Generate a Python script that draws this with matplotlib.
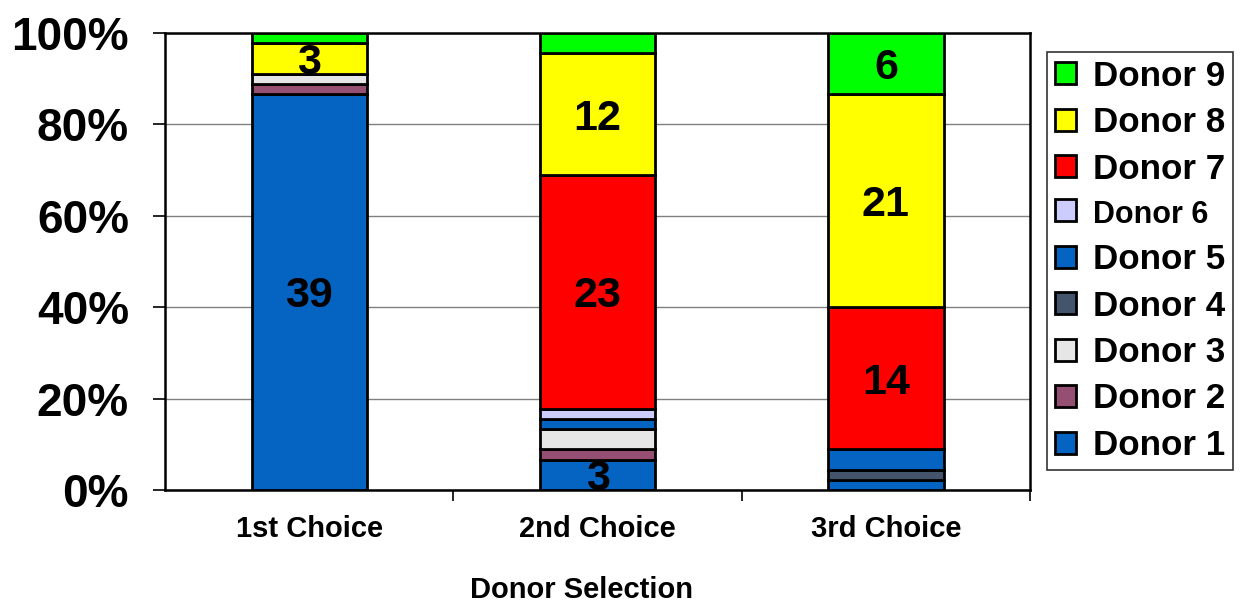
import matplotlib
matplotlib.use("Agg")
import matplotlib.pyplot as plt
from matplotlib.ticker import FixedLocator, PercentFormatter
import numpy as np

plt.rcParams['font.family'] = ['Liberation Sans', 'DejaVu Sans']
plt.rcParams['font.weight'] = 'bold'

categories = ['1st Choice', '2nd Choice', '3rd Choice']
donors = ['Donor 1', 'Donor 2', 'Donor 3', 'Donor 4', 'Donor 5',
          'Donor 6', 'Donor 7', 'Donor 8', 'Donor 9']
# counts per donor for each choice
donor1 = [39, 3, 1]
donor2 = [1, 1, 0]
donor3 = [1, 2, 0]
donor4 = [0, 0, 1]
donor5 = [0, 1, 2]
donor6 = [0, 1, 0]
donor7 = [0, 23, 14]
donor8 = [3, 12, 21]
donor9 = [1, 2, 6]
colors = ['#0563C1', '#954F72', '#E6E6E6', '#44546A', '#0563C1',
          '#CCCCFF', '#FF0000', '#FFFF00', '#00FF00']

series = [donor1, donor2, donor3, donor4, donor5, donor6, donor7, donor8, donor9]
counts = np.array(series, dtype=float)
totals = counts.sum(axis=0)
pct = counts / totals * 100

fig = plt.figure(figsize=(12.43, 6.03), dpi=100)
ax = fig.add_axes([165/1243, 1-490/603, (1030-165)/1243, (490-33)/603])

x = np.arange(len(categories))
bottom = np.zeros(len(categories))
handles = []
for i, (name, col) in enumerate(zip(donors, colors)):
    bars = ax.bar(x, pct[i], 0.4, bottom=bottom, color=col, edgecolor='black',
                  linewidth=2.0, label=name, zorder=3)
    handles.append(bars)
    for j in range(len(categories)):
        if counts[i, j] >= 3:
            ax.text(x[j], bottom[j] + pct[i, j] / 2, f"{int(counts[i, j])}",
                    ha='center', va='center_baseline', fontsize=31,
                    fontweight='bold', zorder=4)
    bottom += pct[i]

ax.set_xlim(-0.5, 2.5)
ax.set_ylim(0, 100)
ax.set_yticks([0, 20, 40, 60, 80, 100])
ax.yaxis.set_major_formatter(PercentFormatter(decimals=0))
ax.yaxis.grid(True, color='#808080', linewidth=1, zorder=0)
ax.set_axisbelow(True)
ax.tick_params(axis='y', length=9, width=1.2, pad=17, labelsize=33)
for lbl in ax.get_yticklabels():
    lbl.set_fontweight('bold')

ax.set_xticks(x)
ax.set_xticklabels(categories, fontsize=21, fontweight='bold')
ax.tick_params(axis='x', which='major', length=0, pad=18)
ax.xaxis.set_minor_locator(FixedLocator([0.5, 1.5, 2.5]))
ax.tick_params(axis='x', which='minor', length=8, width=1.2, direction='out')

for s in ax.spines.values():
    s.set_linewidth(1.8)
    s.set_color('black')

fig.text(582/1243, 1-590/603, 'Donor Selection', ha='center', va='center',
         fontsize=21, fontweight='bold')

leg = ax.legend(handles[::-1], donors[::-1], loc='upper left',
                bbox_to_anchor=(1047/1243, 1-52/603),
                bbox_transform=fig.transFigure,
                fontsize=25.2, frameon=True, fancybox=False, shadow=False,
                handlelength=0.6, handleheight=0.6, handletextpad=0.5,
                labelspacing=0.385, borderpad=0.22, borderaxespad=0)
leg.get_frame().set_edgecolor('black')
leg.get_frame().set_linewidth(1.2)
for t in leg.get_texts():
    t.set_fontweight('bold')
    if t.get_text() == 'Donor 6':
        t.set_fontsize(22)

fig.savefig('out.png', dpi=100)
